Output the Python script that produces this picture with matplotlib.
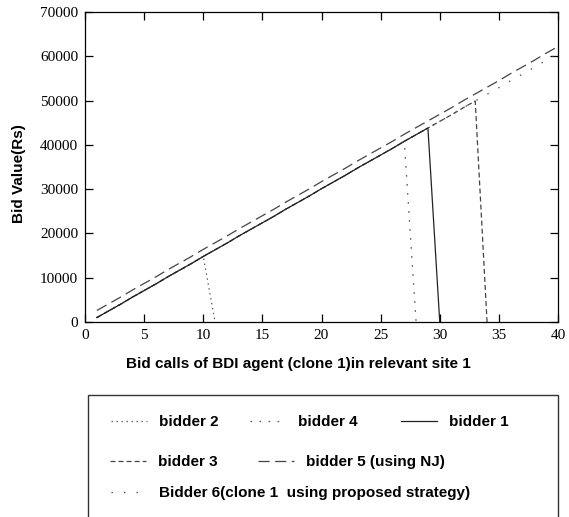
import matplotlib
matplotlib.use("Agg")
import matplotlib.pyplot as plt
from matplotlib.patches import Rectangle

# ---- data ----
bid_calls = list(range(1, 41))
common_bids = [1000, 2500, 4000, 5600, 7100, 8600, 10200, 11700, 13200, 14800,
               16300, 17800, 19400, 20900, 22400, 23900, 25500, 27000, 28500, 30100,
               31600, 33100, 34700, 36200, 37700, 39200, 40800, 42300, 43800, 45300,
               46800, 48400, 49900, 51400, 52900, 54500, 56000, 57500, 59100, 60600]
nj_bids = [2600, 4100, 5600, 7200, 8700, 10200, 11800, 13300, 14800, 16400,
           17900, 19400, 21000, 22500, 24000, 25500, 27100, 28600, 30100, 31700,
           33200, 34700, 36300, 37800, 39300, 40800, 42400, 43900, 45400, 46900,
           48400, 50000, 51500, 53000, 54500, 56100, 57600, 59100, 60700, 62200]
# last bid call of each bidder before dropping to 0 on the next call
bidder2_last = 10
bidder4_last = 27
bidder1_last = 29
bidder3_last = 33

x_ticks = [0, 5, 10, 15, 20, 25, 30, 35, 40]
y_ticks = [0, 10000, 20000, 30000, 40000, 50000, 60000, 70000]

plt.rcParams['lines.scale_dashes'] = False
W, H = 569, 517
fig = plt.figure(figsize=(W / 100, H / 100), dpi=100)
ax = fig.add_axes([85 / W, 1 - 322 / H, (558 - 85) / W, (322 - 12) / H])

bold_font = ['Liberation Sans Narrow', 'Liberation Sans', 'DejaVu Sans']
serif_font = ['Liberation Serif', 'DejaVu Serif']


def series(last):
    xs = bid_calls[:last] + [last + 1]
    ys = common_bids[:last] + [0]
    return xs, ys


h6, = ax.plot(bid_calls, common_bids, color='#444444', lw=0.9, ls=(0, (1.0, 8.0)))
xs, ys = series(bidder2_last)
h2, = ax.plot(xs, ys, color='#555555', lw=0.9, ls=(0, (1.0, 2.6)))
xs, ys = series(bidder4_last)
h4, = ax.plot(xs, ys, color='#555555', lw=0.9, ls=(0, (1.2, 5.3)))
xs, ys = series(bidder3_last)
h3, = ax.plot(xs, ys, color='#444444', lw=0.9, ls=(0, (3.6, 2.2)))
xs, ys = series(bidder1_last)
h1, = ax.plot(xs, ys, color='#222222', lw=0.9, ls='-')
h5, = ax.plot(bid_calls, nj_bids, color='#444444', lw=0.9, ls=(0, (8.0, 4.0)))

ax.set_xlim(0, 40)
ax.set_ylim(0, 70000)
ax.set_xticks(x_ticks)
ax.set_yticks(y_ticks)
ax.tick_params(direction='in', length=6, width=0.9, top=True, right=True,
               labelsize=11, pad=5)
for lab in ax.get_xticklabels() + ax.get_yticklabels():
    lab.set_family(serif_font)
for s in ax.spines.values():
    s.set_linewidth(0.9)

fig.text(298 / W, 1 - 364 / H, 'Bid calls of BDI agent (clone 1)in relevant site 1',
         family=bold_font, fontweight='bold', fontsize=11,
         ha='center', va='center')
fig.text(19 / W, 1 - 174 / H, 'Bid Value(Rs)', family=bold_font,
         fontweight='bold', fontsize=11, rotation=90, ha='center', va='center')

# legend frame
fig.add_artist(Rectangle((88 / W, 1 - 530 / H), (558 - 88) / W, (530 - 395) / H,
                         transform=fig.transFigure, fill=False,
                         edgecolor='#333333', lw=1.0))

entries = [
    (h2, 'bidder 2', 111, 422),
    (h4, 'bidder 4', 250, 422),
    (h1, 'bidder 1', 401, 422),
    (h3, 'bidder 3', 110, 462),
    (h5, 'bidder 5 (using NJ)', 258, 462),
    (h6, 'Bidder 6(clone 1  using proposed strategy)', 111, 493),
]
for h, label, px, py in entries:
    fig.legend(handles=[h], labels=[label], loc='center left',
               bbox_to_anchor=(px / W, 1 - py / H), frameon=False,
               handlelength=2.35, handletextpad=0.78, borderpad=0,
               borderaxespad=0,
               prop={'family': bold_font, 'weight': 'bold', 'size': 11})

fig.savefig('out.png', dpi=100)
